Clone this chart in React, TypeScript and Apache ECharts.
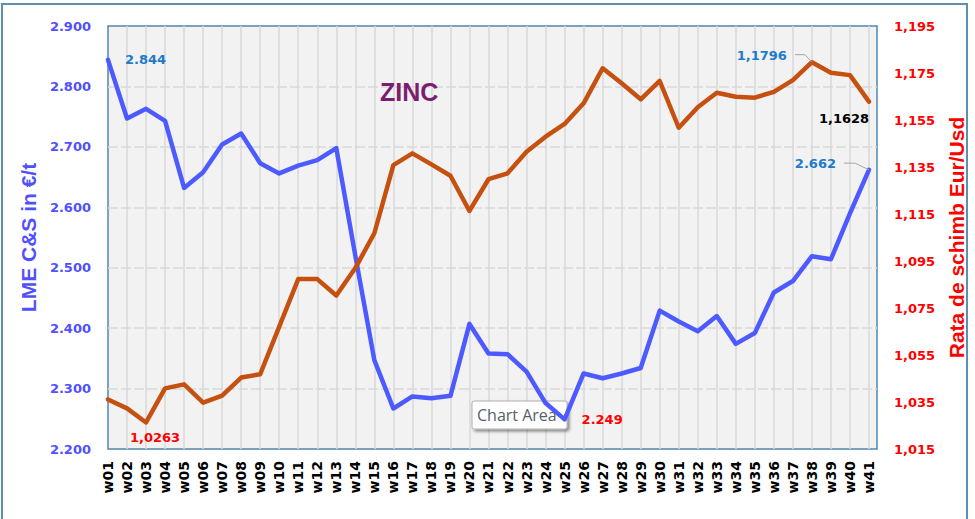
import React, { useEffect, useRef } from "react";
import * as echarts from "echarts";

const weeks = [
  "w01", "w02", "w03", "w04", "w05", "w06", "w07", "w08", "w09", "w10",
  "w11", "w12", "w13", "w14", "w15", "w16", "w17", "w18", "w19", "w20",
  "w21", "w22", "w23", "w24", "w25", "w26", "w27", "w28", "w29", "w30",
  "w31", "w32", "w33", "w34", "w35", "w36", "w37", "w38", "w39", "w40", "w41",
];

const lmeValues = [
  2844, 2747, 2763, 2743, 2632, 2658, 2704, 2722, 2673, 2656,
  2669, 2678, 2698, 2520, 2347, 2267, 2287, 2284, 2288, 2407,
  2358, 2357, 2328, 2276, 2249, 2325, 2317, 2325, 2334, 2429,
  2411, 2395, 2420, 2374, 2392, 2459, 2478, 2519, 2514, 2590, 2662,
];

const rateValues = [
  1.0361, 1.0323, 1.0263, 1.0408, 1.0425, 1.0347, 1.0377, 1.0454, 1.0468, 1.0671,
  1.0873, 1.0873, 1.0803, 1.092, 1.1068, 1.1358, 1.1408, 1.1361, 1.1313, 1.1163,
  1.1298, 1.1323, 1.1415, 1.1479, 1.1533, 1.1621, 1.177, 1.1706, 1.1638, 1.1716,
  1.1517, 1.1604, 1.1666, 1.1649, 1.1645, 1.167, 1.172, 1.1796, 1.1751, 1.1741, 1.1628,
];

const leftTicks = { min: 2200, max: 2900, step: 100 };
const rightTicks = { min: 1.015, max: 1.195, step: 0.02 };

const chartTitle = "ZINC";
const leftAxisName = "LME C&S in €/t";
const rightAxisName = "Rata de schimb Eur/Usd";
const tooltipText = "Chart Area";

const fmtLme = (v: number) => (v / 1000).toFixed(3);
const fmtRate = (v: number, d = 4) => v.toFixed(d).replace(".", ",");

const idxOf = (arr: number[], fn: (a: number, b: number) => boolean) => {
  let k = 0;
  arr.forEach((v, i) => {
    if (fn(v, arr[k])) k = i;
  });
  return k;
};

export default function App() {
  const ref = useRef<HTMLDivElement>(null);

  useEffect(() => {
    if (!ref.current) return;
    const chart = echarts.init(ref.current, null, { renderer: "svg" });

    const BLUE = "#4d5aff";
    const ORANGE = "#c5500f";
    const LBLUE = "#1e7bcc";
    const labelFont = {
      fontFamily: "DejaVu Sans",
      fontWeight: "bold" as const,
      fontSize: 13,
    };

    const lmeMax = idxOf(lmeValues, (a, b) => a > b);
    const lmeMin = idxOf(lmeValues, (a, b) => a < b);
    const lmeLast = lmeValues.length - 1;
    const rateMax = idxOf(rateValues, (a, b) => a > b);
    const rateMin = idxOf(rateValues, (a, b) => a < b);
    const rateLast = rateValues.length - 1;

    const withLabel = (v: number, text: string, label: any) => ({
      value: v,
      label: { show: true, formatter: text, ...labelFont, ...label },
    });

    const lmeData = lmeValues.map((v, i) => {
      if (i === lmeMax)
        return withLabel(v, fmtLme(v), { position: "right", distance: 16, color: LBLUE });
      if (i === lmeMin)
        return withLabel(v, fmtLme(v), { position: "right", distance: 16, color: "#ff0000" });
      if (i === lmeLast)
        return withLabel(v, fmtLme(v), { position: "left", distance: 32, offset: [0, -6], color: LBLUE });
      return v;
    });

    const rateData = rateValues.map((v, i) => {
      if (i === rateMin)
        return withLabel(v, fmtRate(v), { position: "bottom", distance: 8, offset: [9, 0], color: "#ff0000" });
      if (i === rateMax)
        return withLabel(v, fmtRate(v), { position: "left", distance: 24, offset: [0, -7], color: LBLUE });
      if (i === rateLast)
        return withLabel(v, fmtRate(v), { position: "bottom", distance: 9, offset: [-25, 0], color: "#000000" });
      return v;
    });

    const gridLine = "#d9d9d9";

    chart.setOption({
      animation: false,
      backgroundColor: "#ffffff",
      title: {
        text: chartTitle,
        left: 380,
        top: 79,
        padding: 0,
        textStyle: {
          color: "#7b1e6e",
          fontSize: 25,
          fontWeight: "bold",
          fontFamily: "Liberation Sans, Arial",
        },
      },
      grid: [
        { left: 108, right: 106, top: 26, bottom: 70, show: false },
        {
          left: 108,
          right: 98,
          top: 26,
          bottom: 70,
          show: true,
          z: -1,
          backgroundColor: "#f2f2f2",
          borderColor: "#4f86ad",
          borderWidth: 1.5,
        },
      ],
      xAxis: [
        {
          type: "category",
          gridIndex: 0,
          data: weeks,
          boundaryGap: false,
          axisLine: { show: false },
          axisTick: { show: false },
          axisLabel: {
            interval: 0,
            rotate: 90,
            margin: 12,
            color: "#000000",
            fontFamily: "DejaVu Sans",
            fontWeight: "bold",
            fontSize: 14,
          },
          splitLine: {
            show: true,
            interval: 0,
            showMinLine: false,
            lineStyle: { color: gridLine, width: 1.5 },
          },
        },
        {
          type: "value",
          gridIndex: 1,
          show: true,
          axisLine: { show: false },
          axisTick: { show: false },
          axisLabel: { show: false },
          splitLine: { show: false },
        },
      ],
      yAxis: [
        {
          type: "value",
          gridIndex: 0,
          position: "left",
          min: leftTicks.min,
          max: leftTicks.max,
          interval: leftTicks.step,
          name: leftAxisName,
          nameLocation: "middle",
          nameRotate: 90,
          nameGap: 64,
          nameTextStyle: {
            color: "#5050ff",
            fontSize: 21,
            fontWeight: "bold",
            fontFamily: "Liberation Sans, Arial",
          },
          axisLine: { show: false },
          axisTick: { show: false },
          splitLine: { show: false },
          axisLabel: {
            margin: 17,
            color: "#5050ff",
            ...labelFont,
            formatter: (v: number) => fmtLme(v),
          },
        },
        {
          type: "value",
          gridIndex: 0,
          position: "right",
          offset: 8,
          min: rightTicks.min,
          max: rightTicks.max,
          interval: rightTicks.step,
          name: rightAxisName,
          nameLocation: "middle",
          nameRotate: 90,
          nameGap: 65,
          nameTextStyle: {
            color: "#ff0000",
            fontSize: 21,
            fontWeight: "bold",
            fontFamily: "Liberation Sans, Arial",
          },
          axisLine: { show: false },
          axisTick: { show: false },
          splitLine: { show: false },
          axisLabel: {
            margin: 17,
            color: "#ff0000",
            ...labelFont,
            formatter: (v: number) => fmtRate(v, 3),
          },
        },
        {
          type: "value",
          gridIndex: 1,
          min: leftTicks.min,
          max: leftTicks.max,
          interval: leftTicks.step,
          axisLine: { show: false },
          axisTick: { show: false },
          axisLabel: { show: false },
          splitLine: {
            show: true,
            showMinLine: false,
            showMaxLine: false,
            lineStyle: { color: gridLine, width: 1.5, type: [10, 3] },
          },
        },
      ],
      series: [
        {
          type: "line",
          name: "LME",
          xAxisIndex: 0,
          yAxisIndex: 0,
          data: lmeData,
          symbol: "circle",
          symbolSize: 2,
          showSymbol: true,
          showAllSymbol: true,
          lineStyle: { color: BLUE, width: 4.5, join: "round", cap: "round" },
          itemStyle: { color: BLUE },
          z: 3,
        },
        {
          type: "line",
          name: "Rate",
          xAxisIndex: 0,
          yAxisIndex: 1,
          data: rateData,
          symbol: "circle",
          symbolSize: 2,
          showSymbol: true,
          showAllSymbol: true,
          lineStyle: { color: ORANGE, width: 4.5, join: "round", cap: "round" },
          itemStyle: { color: ORANGE },
          z: 4,
        },
      ],
    });

    const pMax = chart.convertToPixel({ xAxisIndex: 0, yAxisIndex: 1 }, [rateMax, rateValues[rateMax]]) as number[];
    const pLast = chart.convertToPixel({ xAxisIndex: 0, yAxisIndex: 0 }, [lmeLast, lmeValues[lmeLast]]) as number[];
    const leader = { stroke: "#a6a6a6", lineWidth: 1, fill: "none" };

    chart.setOption({
      graphic: [
        {
          type: "rect",
          id: "outer",
          z: 100,
          silent: true,
          shape: { x: 2, y: 4, width: 965, height: 540 },
          style: { fill: "none", stroke: "#5e8fab", lineWidth: 2 },
        },
        {
          type: "polyline",
          id: "leader1",
          z: 50,
          shape: {
            points: [
              [pMax[0] - 17, pMax[1] - 7.5],
              [pMax[0] - 7, pMax[1] - 7.5],
              [pMax[0], pMax[1]],
            ],
          },
          style: leader,
        },
        {
          type: "polyline",
          id: "leader2",
          z: 50,
          shape: {
            points: [
              [pLast[0] - 25, pLast[1] - 6.7],
              [pLast[0] - 14, pLast[1] - 6.7],
              [pLast[0], pLast[1]],
            ],
          },
          style: leader,
        },
        {
          type: "group",
          id: "tip",
          z: 60,
          children: [
            {
              type: "rect",
              shape: { x: 472, y: 401, width: 95, height: 28, r: 2 },
              style: {
                fill: "#ffffff",
                stroke: "#b0b0b0",
                lineWidth: 1,
                shadowBlur: 3,
                shadowOffsetX: 2,
                shadowOffsetY: 2,
                shadowColor: "rgba(0,0,0,0.45)",
              },
            },
            {
              type: "text",
              x: 477,
              y: 415,
              style: {
                text: tooltipText,
                fill: "#56606c",
                font: "16px 'Open Sans'",
                verticalAlign: "middle",
              },
            },
          ],
        },
      ],
    });

    return () => chart.dispose();
  }, []);

  return (
    <div
      ref={ref}
      style={{ position: "fixed", left: 0, top: 0, width: 975, height: 519, background: "#fff" }}
    />
  );
}
